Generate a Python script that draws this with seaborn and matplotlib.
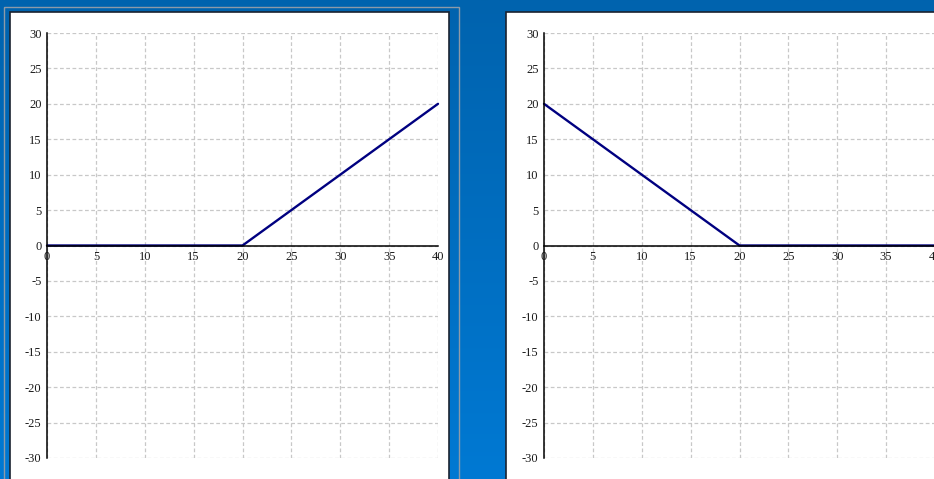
import numpy as np
import pandas as pd
import matplotlib
matplotlib.use("Agg")
import matplotlib.pyplot as plt
import seaborn as sns
from matplotlib.patches import Rectangle

# data for the two panels (ramp up / ramp down)
x_vals = [0, 20, 40]
left_y = [0, 0, 20]
right_y = [20, 0, 0]
x_ticks = list(range(0, 45, 5))
y_ticks = list(range(-30, 35, 5))

sns.set_style("white")
plt.rcParams['font.family'] = ['Liberation Serif', 'DejaVu Serif']
plt.rcParams['axes.unicode_minus'] = False

W, H = 934, 479
fig = plt.figure(figsize=(W / 100, H / 100), dpi=100)

# desktop background with window frames, drawn in pixel coords
bg = fig.add_axes([0, 0, 1, 1])
grad = np.linspace(0, 1, 256).reshape(-1, 1)
cmap = matplotlib.colors.LinearSegmentedColormap.from_list("desk", ["#0063ae", "#0079d3"])
bg.imshow(grad, aspect="auto", cmap=cmap, extent=[0, W, H, 0])
bg.set_xlim(0, W)
bg.set_ylim(H, 0)
bg.axis("off")
bg.add_patch(Rectangle((3.5, 6.5), 455, 480, fill=False, edgecolor="#8d9aa8", lw=1))
bg.add_patch(Rectangle((10, 12), 439, 480, facecolor="white", edgecolor="#1b2330", lw=1.2))
bg.add_patch(Rectangle((506, 12), 440, 480, facecolor="white", edgecolor="#1b2330", lw=1.2))


def draw_panel(ax, y):
    df = pd.DataFrame({"x": x_vals, "y": y})
    sns.lineplot(data=df, x="x", y="y", ax=ax, color="#000080", linewidth=1.7, clip_on=False)
    ax.set_xlim(0, 40)
    ax.set_ylim(-30, 30)
    ax.set_xticks(x_ticks)
    ax.set_yticks(y_ticks)
    ax.set_facecolor("none")
    ax.set_xlabel("")
    ax.set_ylabel("")
    ax.spines["left"].set_position(("data", 0))
    ax.spines["bottom"].set_position(("data", 0))
    ax.spines["top"].set_visible(False)
    ax.spines["right"].set_visible(False)
    for s in ["left", "bottom"]:
        ax.spines[s].set_color("black")
        ax.spines[s].set_linewidth(1.1)
    ax.grid(True, color="#c8c8c8", linestyle=(0, (3, 2)), linewidth=0.9)
    ax.set_axisbelow(True)
    ax.tick_params(direction="inout", length=5, width=1, color="black",
                   labelsize=9, pad=1.5, labelcolor="#1a1a1a")


ax1 = fig.add_axes([47 / W, 1 - 458 / H, 391 / W, 425 / H])
draw_panel(ax1, left_y)
ax2 = fig.add_axes([544 / W, 1 - 458 / H, 391 / W, 425 / H])
draw_panel(ax2, right_y)

plt.savefig("out.png", dpi=100)
